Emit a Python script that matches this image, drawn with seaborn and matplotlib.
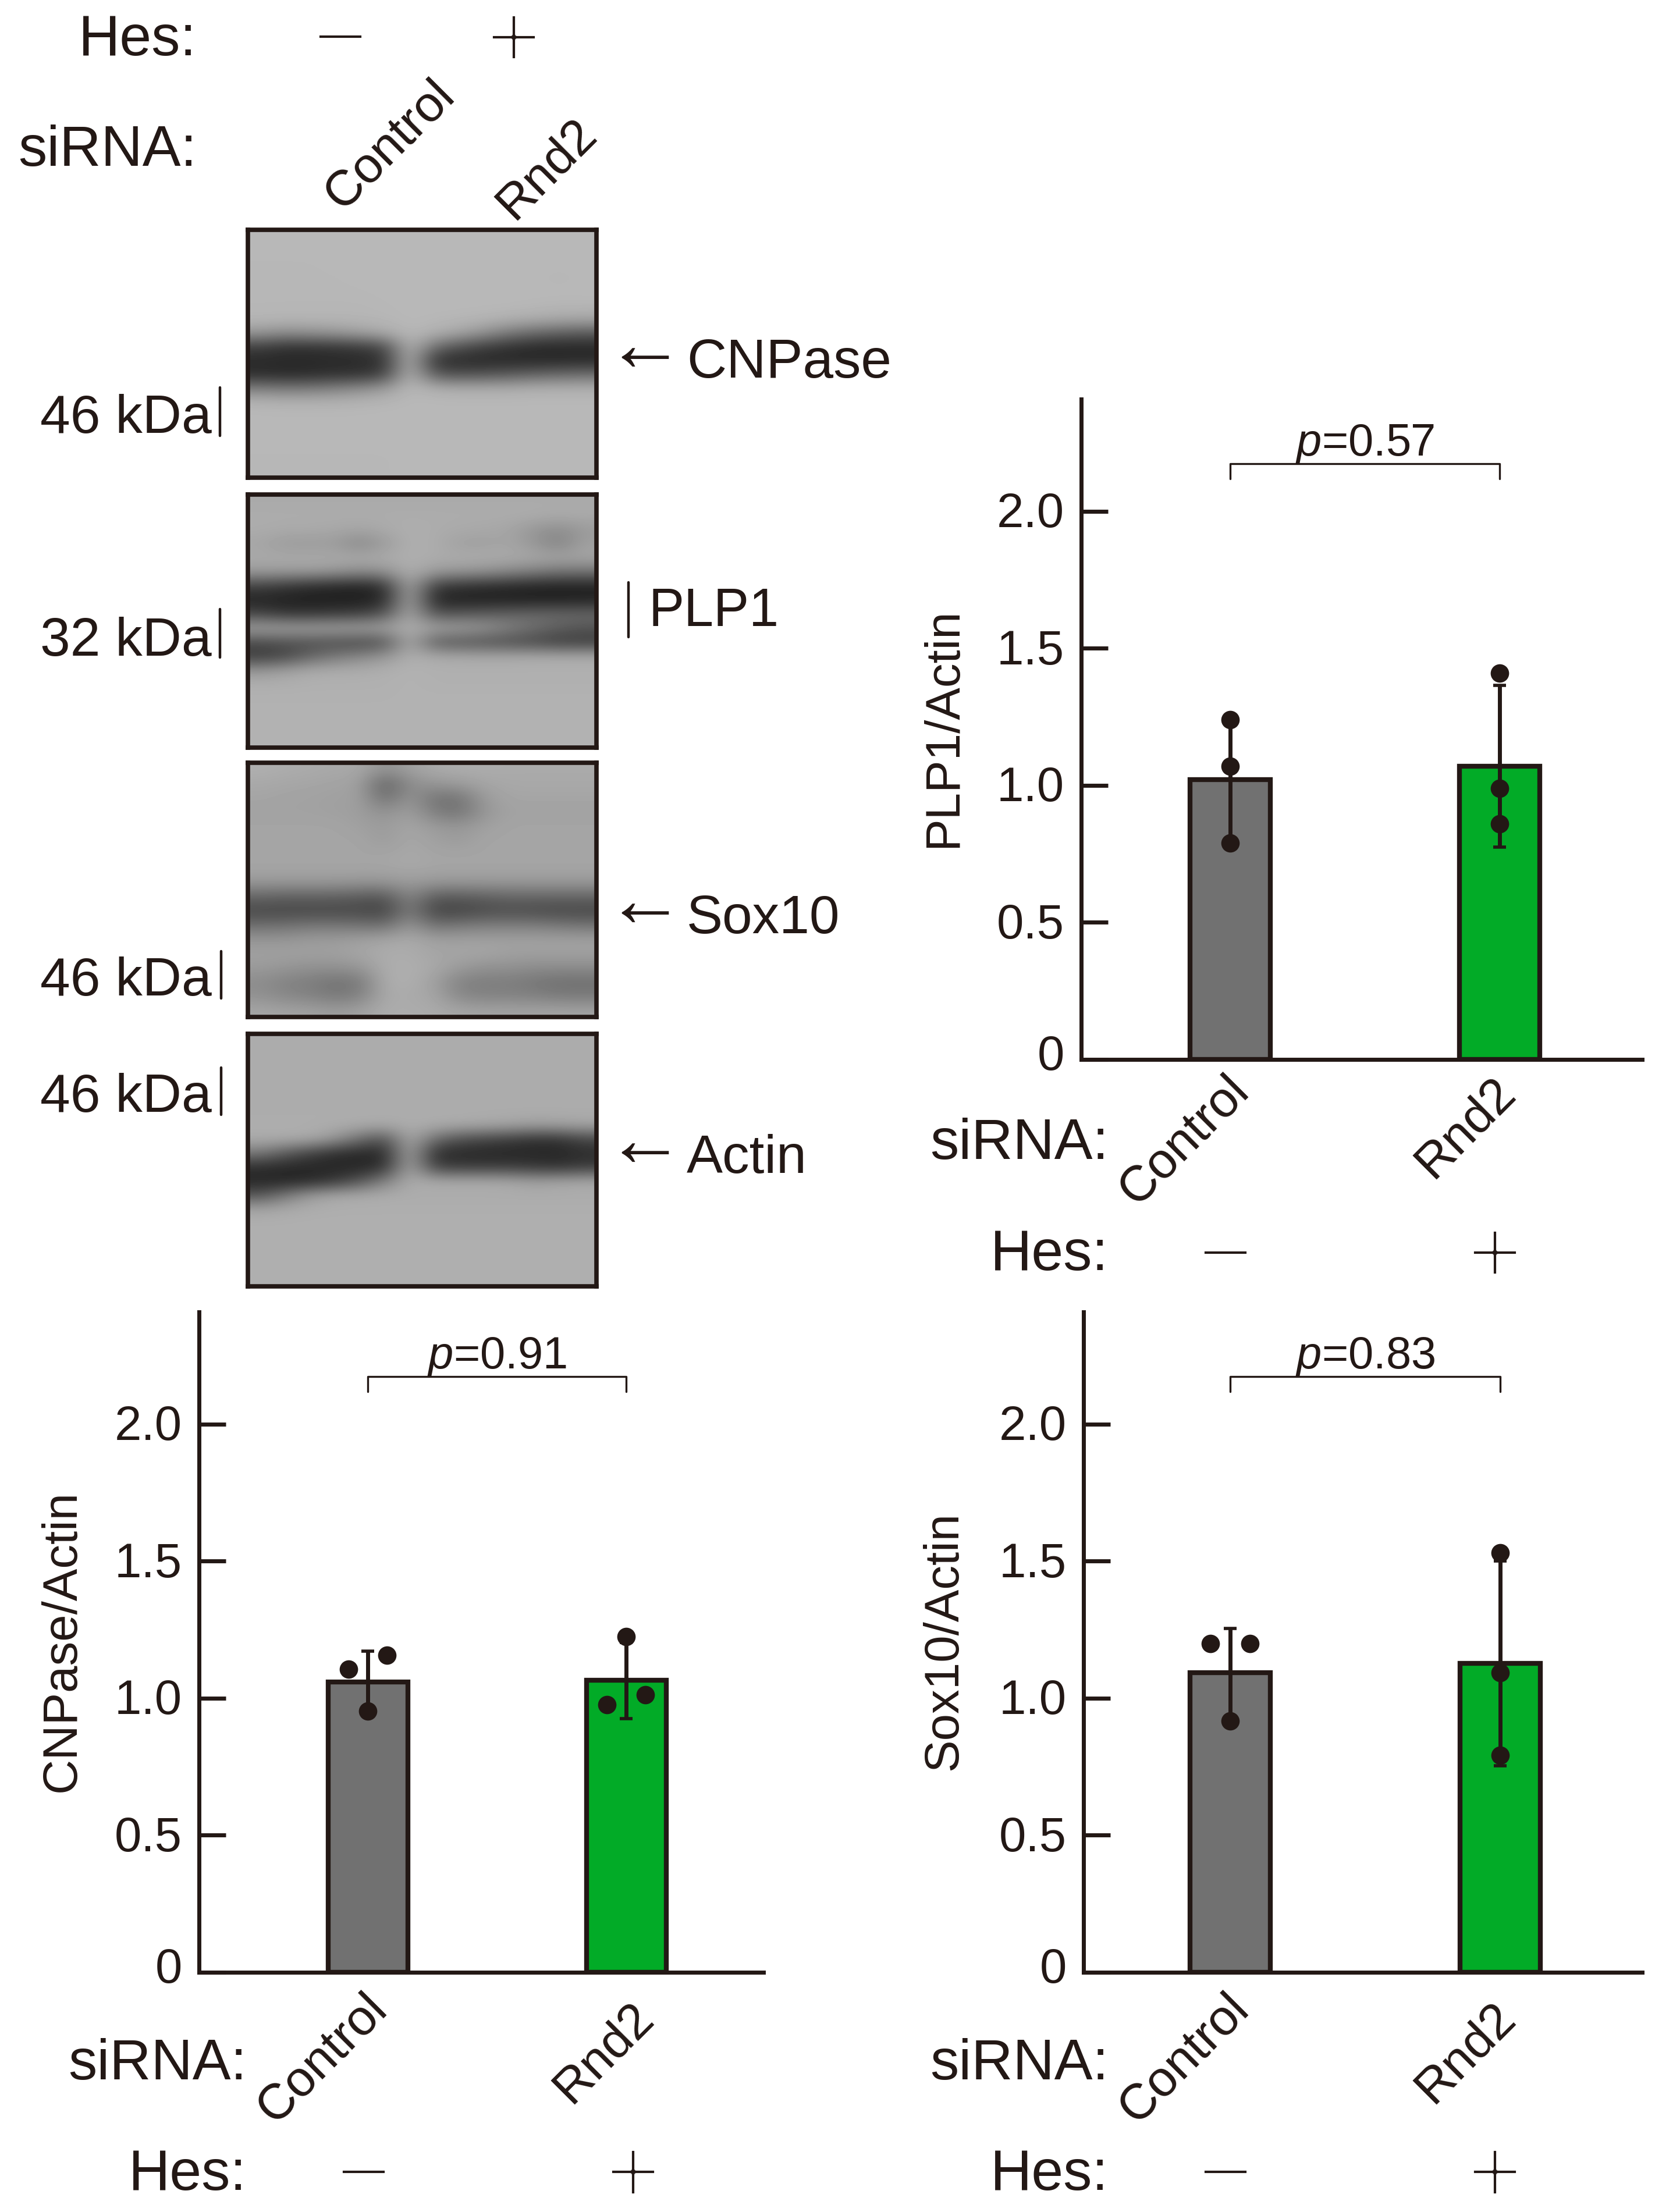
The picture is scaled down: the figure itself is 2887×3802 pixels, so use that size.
# -*- coding: utf-8 -*-
import pandas as pd
import matplotlib.pyplot as plt
import matplotlib.patheffects as pe
from matplotlib.lines import Line2D
from matplotlib.transforms import ScaledTranslation
import seaborn as sns

W, H = 2887, 3802
INK = '#231815'

# values
categories = ['Control', 'Rnd2']
bar_colors = ['#717171', '#02AB27']
y_ticks = [0, 0.5, 1.0, 1.5, 2.0]
y_tick_labels = ['0', '0.5', '1.0', '1.5', '2.0']

plp1_means = [1.02, 1.07]
plp1_points = [[1.24, 1.07, 0.79], [1.41, 0.99, 0.86]]
plp1_err_low = [0.79, 0.775]
plp1_err_high = [1.24, 1.365]

cnpase_means = [1.06, 1.065]
cnpase_points = [[1.105, 1.157, 0.953], [1.225, 0.977, 1.013]]
cnpase_err_low = [0.953, 0.926]
cnpase_err_high = [1.172, 1.204]

sox10_means = [1.093, 1.127]
sox10_points = [[1.20, 1.20, 0.917], [1.53, 1.093, 0.792]]
sox10_err_low = [0.93, 0.754]
sox10_err_high = [1.255, 1.50]

# blot densities, grey level per lane slice (top row first)
cnpase_blot = [
    [184, 184, 184, 184, 184, 184, 184, 184, 184, 184, 184, 184, 184, 184],
    [184, 184, 184, 184, 184, 184, 184, 184, 184, 184, 184, 184, 184, 184],
    [183, 183, 183, 184, 184, 184, 184, 184, 184, 184, 184, 184, 184, 184],
    [183, 183, 183, 183, 184, 184, 184, 184, 184, 184, 184, 184, 182, 184],
    [183, 183, 183, 183, 183, 184, 184, 184, 184, 184, 184, 184, 184, 184],
    [182, 182, 182, 182, 182, 183, 184, 184, 184, 184, 184, 183, 182, 182],
    [182, 181, 181, 181, 181, 182, 184, 183, 182, 180, 176, 172, 168, 166],
    [150, 140, 145, 150, 160, 170, 184, 176, 165, 145, 120, 105, 95, 90],
    [62, 50, 50, 52, 58, 72, 184, 110, 80, 62, 50, 42, 40, 40],
    [42, 40, 40, 42, 42, 50, 184, 48, 42, 40, 40, 40, 40, 42],
    [45, 42, 44, 48, 50, 65, 184, 90, 80, 85, 90, 100, 105, 110],
    [125, 120, 122, 130, 140, 155, 184, 175, 172, 172, 172, 175, 175, 175],
    [180, 178, 178, 178, 180, 182, 184, 184, 184, 184, 184, 184, 184, 184],
    [184, 184, 184, 184, 184, 184, 184, 184, 184, 184, 184, 184, 184, 184],
    [184, 184, 184, 184, 184, 184, 184, 184, 184, 184, 184, 184, 184, 184],
    [184, 184, 184, 184, 184, 184, 184, 184, 184, 184, 184, 184, 184, 184],
    [183, 183, 183, 183, 183, 183, 184, 184, 184, 184, 184, 184, 184, 184],
    [183, 183, 183, 183, 183, 183, 184, 184, 184, 184, 184, 184, 184, 184],
]
plp1_blot = [
    [170, 170, 170, 170, 170, 170, 170, 170, 170, 170, 170, 170, 170, 170],
    [172, 172, 172, 172, 172, 172, 172, 172, 172, 172, 172, 172, 170, 170],
    [172, 170, 170, 168, 165, 170, 175, 172, 170, 168, 165, 150, 140, 155],
    [165, 155, 155, 155, 135, 155, 175, 172, 160, 160, 165, 150, 130, 160],
    [170, 170, 170, 170, 170, 172, 175, 172, 172, 172, 170, 168, 165, 165],
    [155, 155, 155, 150, 140, 145, 175, 155, 150, 145, 135, 125, 115, 115],
    [65, 55, 45, 40, 36, 48, 172, 60, 50, 45, 40, 36, 34, 34],
    [35, 32, 30, 30, 30, 40, 172, 38, 32, 32, 32, 32, 32, 35],
    [70, 55, 55, 60, 65, 85, 172, 85, 90, 95, 100, 105, 105, 105],
    [165, 165, 165, 165, 165, 165, 175, 165, 160, 150, 130, 110, 95, 85],
    [75, 80, 80, 78, 72, 80, 172, 90, 85, 80, 75, 70, 60, 60],
    [60, 70, 100, 120, 135, 150, 175, 170, 168, 168, 168, 170, 170, 170],
    [150, 160, 170, 172, 172, 175, 178, 176, 176, 176, 176, 176, 176, 176],
    [175, 175, 176, 176, 176, 176, 178, 176, 176, 176, 176, 176, 176, 176],
    [177, 177, 177, 177, 177, 177, 178, 178, 178, 178, 178, 178, 178, 178],
    [178, 178, 178, 178, 178, 178, 178, 178, 178, 178, 178, 178, 178, 178],
    [178, 178, 178, 178, 178, 178, 178, 178, 178, 178, 178, 178, 178, 178],
    [178, 178, 178, 178, 178, 178, 178, 178, 178, 178, 178, 178, 178, 178],
]
sox10_blot = [
    [175, 172, 170, 168, 168, 145, 160, 170, 172, 172, 170, 170, 170, 170],
    [168, 166, 165, 163, 160, 95, 140, 150, 155, 165, 168, 168, 168, 168],
    [165, 163, 162, 160, 160, 110, 150, 115, 115, 155, 165, 165, 165, 165],
    [162, 162, 162, 160, 158, 145, 160, 125, 115, 150, 162, 162, 162, 162],
    [165, 165, 165, 165, 160, 155, 165, 155, 150, 160, 165, 165, 165, 165],
    [165, 165, 165, 165, 165, 155, 168, 160, 155, 165, 165, 165, 165, 165],
    [165, 165, 165, 165, 165, 165, 168, 165, 165, 165, 165, 165, 165, 165],
    [165, 165, 165, 165, 165, 165, 168, 165, 165, 165, 165, 165, 165, 165],
    [150, 150, 150, 150, 148, 148, 155, 150, 150, 150, 150, 150, 150, 150],
    [100, 95, 95, 95, 90, 85, 135, 90, 90, 95, 100, 100, 100, 100],
    [72, 72, 72, 72, 72, 66, 125, 68, 68, 75, 78, 75, 72, 72],
    [110, 112, 118, 118, 115, 110, 150, 112, 120, 125, 125, 125, 120, 115],
    [150, 150, 155, 155, 160, 165, 170, 160, 160, 160, 160, 160, 160, 160],
    [160, 160, 160, 160, 165, 172, 172, 165, 165, 165, 160, 160, 160, 160],
    [155, 150, 145, 145, 150, 172, 175, 168, 155, 145, 145, 140, 140, 140],
    [140, 130, 125, 115, 120, 172, 175, 160, 130, 125, 125, 118, 112, 112],
    [145, 135, 130, 120, 128, 170, 170, 165, 135, 130, 130, 128, 122, 122],
    [165, 162, 160, 155, 160, 172, 172, 170, 165, 162, 162, 162, 162, 162],
]
actin_blot = [
    [172, 172, 172, 172, 172, 172, 172, 172, 172, 172, 172, 172, 172, 172],
    [172, 172, 172, 172, 172, 172, 172, 172, 172, 172, 172, 172, 172, 172],
    [172, 172, 172, 172, 172, 172, 172, 172, 172, 172, 172, 172, 172, 172],
    [172, 172, 172, 172, 172, 172, 172, 172, 172, 172, 172, 172, 172, 172],
    [172, 172, 172, 172, 172, 172, 172, 172, 172, 172, 172, 172, 172, 172],
    [172, 172, 172, 172, 172, 172, 172, 172, 172, 172, 172, 172, 172, 172],
    [173, 173, 173, 173, 172, 170, 173, 172, 170, 168, 165, 160, 162, 165],
    [172, 172, 170, 150, 110, 80, 173, 110, 80, 70, 60, 50, 50, 70],
    [120, 90, 65, 45, 40, 40, 172, 45, 40, 38, 38, 38, 38, 45],
    [45, 40, 38, 38, 38, 48, 172, 65, 60, 60, 60, 55, 50, 60],
    [38, 36, 40, 55, 85, 130, 172, 170, 170, 170, 168, 160, 165, 168],
    [85, 120, 155, 168, 170, 172, 172, 172, 172, 172, 172, 172, 172, 172],
    [165, 170, 173, 174, 174, 174, 174, 174, 174, 174, 174, 174, 174, 174],
    [175, 175, 175, 175, 175, 175, 175, 175, 175, 175, 175, 175, 175, 175],
    [175, 175, 175, 175, 175, 175, 175, 175, 175, 175, 175, 175, 175, 175],
    [175, 175, 175, 175, 175, 175, 175, 175, 175, 175, 175, 175, 175, 175],
    [175, 175, 175, 175, 175, 175, 175, 175, 175, 175, 175, 175, 175, 175],
    [175, 175, 175, 175, 175, 175, 175, 175, 175, 175, 175, 175, 175, 175],
]

sns.set_theme(style='ticks')
plt.rcParams['font.family'] = ['Liberation Sans', 'DejaVu Sans']
plt.rcParams['mathtext.fontset'] = 'custom'
plt.rcParams['mathtext.it'] = 'Liberation Sans:italic'
plt.rcParams['mathtext.rm'] = 'Liberation Sans'

fig = plt.figure(figsize=(W / 100, H / 100), dpi=100, facecolor='white')


def add_px_axes(left, top, right, bottom):
    return fig.add_axes([left / W, 1 - bottom / H, (right - left) / W, (bottom - top) / H])


def label(x, y, s, size=62, ha='center', rotation=0, **kwargs):
    if rotation == 0:
        y = y + 7  # va center sits a little above the ink
    return fig.text(x / W, 1 - y / H, s, fontsize=size, ha=ha, va='center',
                    rotation=rotation, color=INK, **kwargs)


def sign(x, y, s):
    # plus and minus are drawn much thinner than the font, so eat into the glyph
    t = label(x, y - 1, s, size=90, family='DejaVu Sans')
    t.set_path_effects([pe.Stroke(linewidth=4.2, foreground='white')])


def vbar(x, y0, y1, lw=3.2):
    fig.add_artist(Line2D([x / W, x / W], [1 - y0 / H, 1 - y1 / H], color=INK, lw=lw))


def draw_blot(box, grid):
    ax = add_px_axes(*box)
    ax.imshow(grid, cmap='gray', vmin=0, vmax=255, aspect='auto', interpolation='bicubic')
    ax.set_xticks([])
    ax.set_yticks([])
    for s in ax.spines.values():
        s.set_linewidth(5.5)
        s.set_color(INK)
    sns.despine(ax=ax, left=False, bottom=False, right=False, top=False)


def draw_chart(box, centers, bar_w, ylabel, ylabel_x, ylabel_y, ptext, means, points, offsets, err_low, err_high):
    left, top, right, bottom = box
    ax = add_px_axes(*box)
    step = centers[1] - centers[0]
    df = pd.DataFrame({'siRNA': categories, 'ratio': means})
    sns.barplot(data=df, x='siRNA', y='ratio', hue='siRNA', palette=bar_colors, saturation=1,
                width=bar_w / step, edgecolor=INK, linewidth=6, legend=False, ax=ax, zorder=2)
    for i in range(2):
        ax.errorbar(i, means[i], yerr=[[means[i] - err_low[i]], [err_high[i] - means[i]]],
                    color=INK, lw=5, capsize=8, capthick=4, zorder=3)
    pts = pd.DataFrame({
        'x': [i + o / step for i in range(2) for o in offsets[i]],
        'y': [v for group in points for v in group],
    })
    sns.scatterplot(data=pts, x='x', y='y', s=520, color=INK, linewidth=0, ax=ax, zorder=4)

    ax.plot([0, 0, 1, 1], [2.117, 2.174, 2.174, 2.117], color=INK, lw=2.4)
    ax.text(0.5, 2.203, ptext, fontsize=56, ha='center', va='baseline', color=INK)

    ax.set_xlim((left - centers[0]) / step, (right - centers[0]) / step)
    ax.set_ylim(0, (bottom - top) / 471.2)
    ax.set_xticks([])
    ax.set_xlabel('')
    ax.set_yticks(y_ticks)
    ax.set_yticklabels(y_tick_labels)
    ax.tick_params(axis='y', direction='in', length=33, width=5, color=INK, labelcolor=INK,
                   labelsize=60, pad=21)
    for i, t in enumerate(ax.get_yticklabels()):
        lift = 0.13 if i == 0 else 0.03
        t.set_transform(t.get_transform() + ScaledTranslation(0, lift, fig.dpi_scale_trans))
    ax.set_ylabel(ylabel, fontsize=60, color=INK, va='center')
    ax.yaxis.set_label_coords(ylabel_x, ylabel_y)
    sns.despine(ax=ax)
    for s in ['left', 'bottom']:
        ax.spines[s].set_linewidth(5)
        ax.spines[s].set_color(INK)
    return ax


# blots
draw_blot((426, 395, 1025, 821), cnpase_blot)
draw_blot((426, 850, 1025, 1285), plp1_blot)
draw_blot((426, 1311, 1025, 1748), sox10_blot)
draw_blot((426, 1777, 1025, 2211), actin_blot)

label(338, 62, 'Hes:', size=71, ha='right')
sign(585, 62, '\u2212')
sign(883, 63, '+')
label(338, 253, 'siRNA:', size=71, ha='right')
label(671, 250, 'Control', size=62, rotation=45)
label(940, 290, 'Rnd2', size=62, rotation=45)

label(364, 713, '46 kDa', size=67, ha='right')
vbar(378, 666, 749)
label(364, 1096, '32 kDa', size=67, ha='right')
vbar(378, 1047, 1130)
label(364, 1680, '46 kDa', size=67, ha='right')
vbar(380, 1635, 1716)
label(364, 1880, '46 kDa', size=67, ha='right')
vbar(380, 1835, 1916)

label(1108, 595, '\u2190', size=98)
label(1180, 618, 'CNPase', size=68, ha='left')
vbar(1080, 1001, 1095)
label(1115, 1045, 'PLP1', size=66, ha='left')
label(1108, 1550, '\u2190', size=98)
label(1180, 1573, 'Sox10', size=67, ha='left')
label(1108, 1962, '\u2190', size=98)
label(1180, 1985, 'Actin', size=67, ha='left')

# bar charts
draw_chart((1858, 686, 2822, 1821), [2114, 2577], 138, 'PLP1/Actin', -0.246, 0.502, '$\\mathit{p}$=0.57',
           plp1_means, plp1_points, [[0, 0, 0], [0, 0, 0]], plp1_err_low, plp1_err_high)
label(1905, 1959, 'siRNA:', size=71, ha='right')
label(2036, 1961, 'Control', size=62, rotation=45)
label(2519, 1938, 'Rnd2', size=62, rotation=45)
label(1905, 2150, 'Hes:', size=71, ha='right')
sign(2106, 2152, '\u2212')
sign(2569, 2152, '+')

draw_chart((342, 2255, 1312, 3390), [632, 1076], 137, 'CNPase/Actin', -0.243, 0.5015, '$\\mathit{p}$=0.91',
           cnpase_means, cnpase_points, [[-33, 33, 0], [0, -33, 33]], cnpase_err_low, cnpase_err_high)
label(424, 3541, 'siRNA:', size=71, ha='right')
label(555, 3539, 'Control', size=62, rotation=45)
label(1038, 3528, 'Rnd2', size=62, rotation=45)
label(424, 3731, 'Hes:', size=71, ha='right')
sign(625, 3732, '\u2212')
sign(1088, 3732, '+')

draw_chart((1862, 2255, 2822, 3390), [2114, 2578], 138, 'Sox10/Actin', -0.25, 0.502, '$\\mathit{p}$=0.83',
           sox10_means, sox10_points, [[-34, 34, 0], [0, 0, 0]], sox10_err_low, sox10_err_high)
label(1905, 3541, 'siRNA:', size=71, ha='right')
label(2036, 3539, 'Control', size=62, rotation=45)
label(2519, 3528, 'Rnd2', size=62, rotation=45)
label(1905, 3731, 'Hes:', size=71, ha='right')
sign(2106, 3732, '\u2212')
sign(2569, 3732, '+')

fig.savefig('out.png', dpi=100, facecolor='white')
